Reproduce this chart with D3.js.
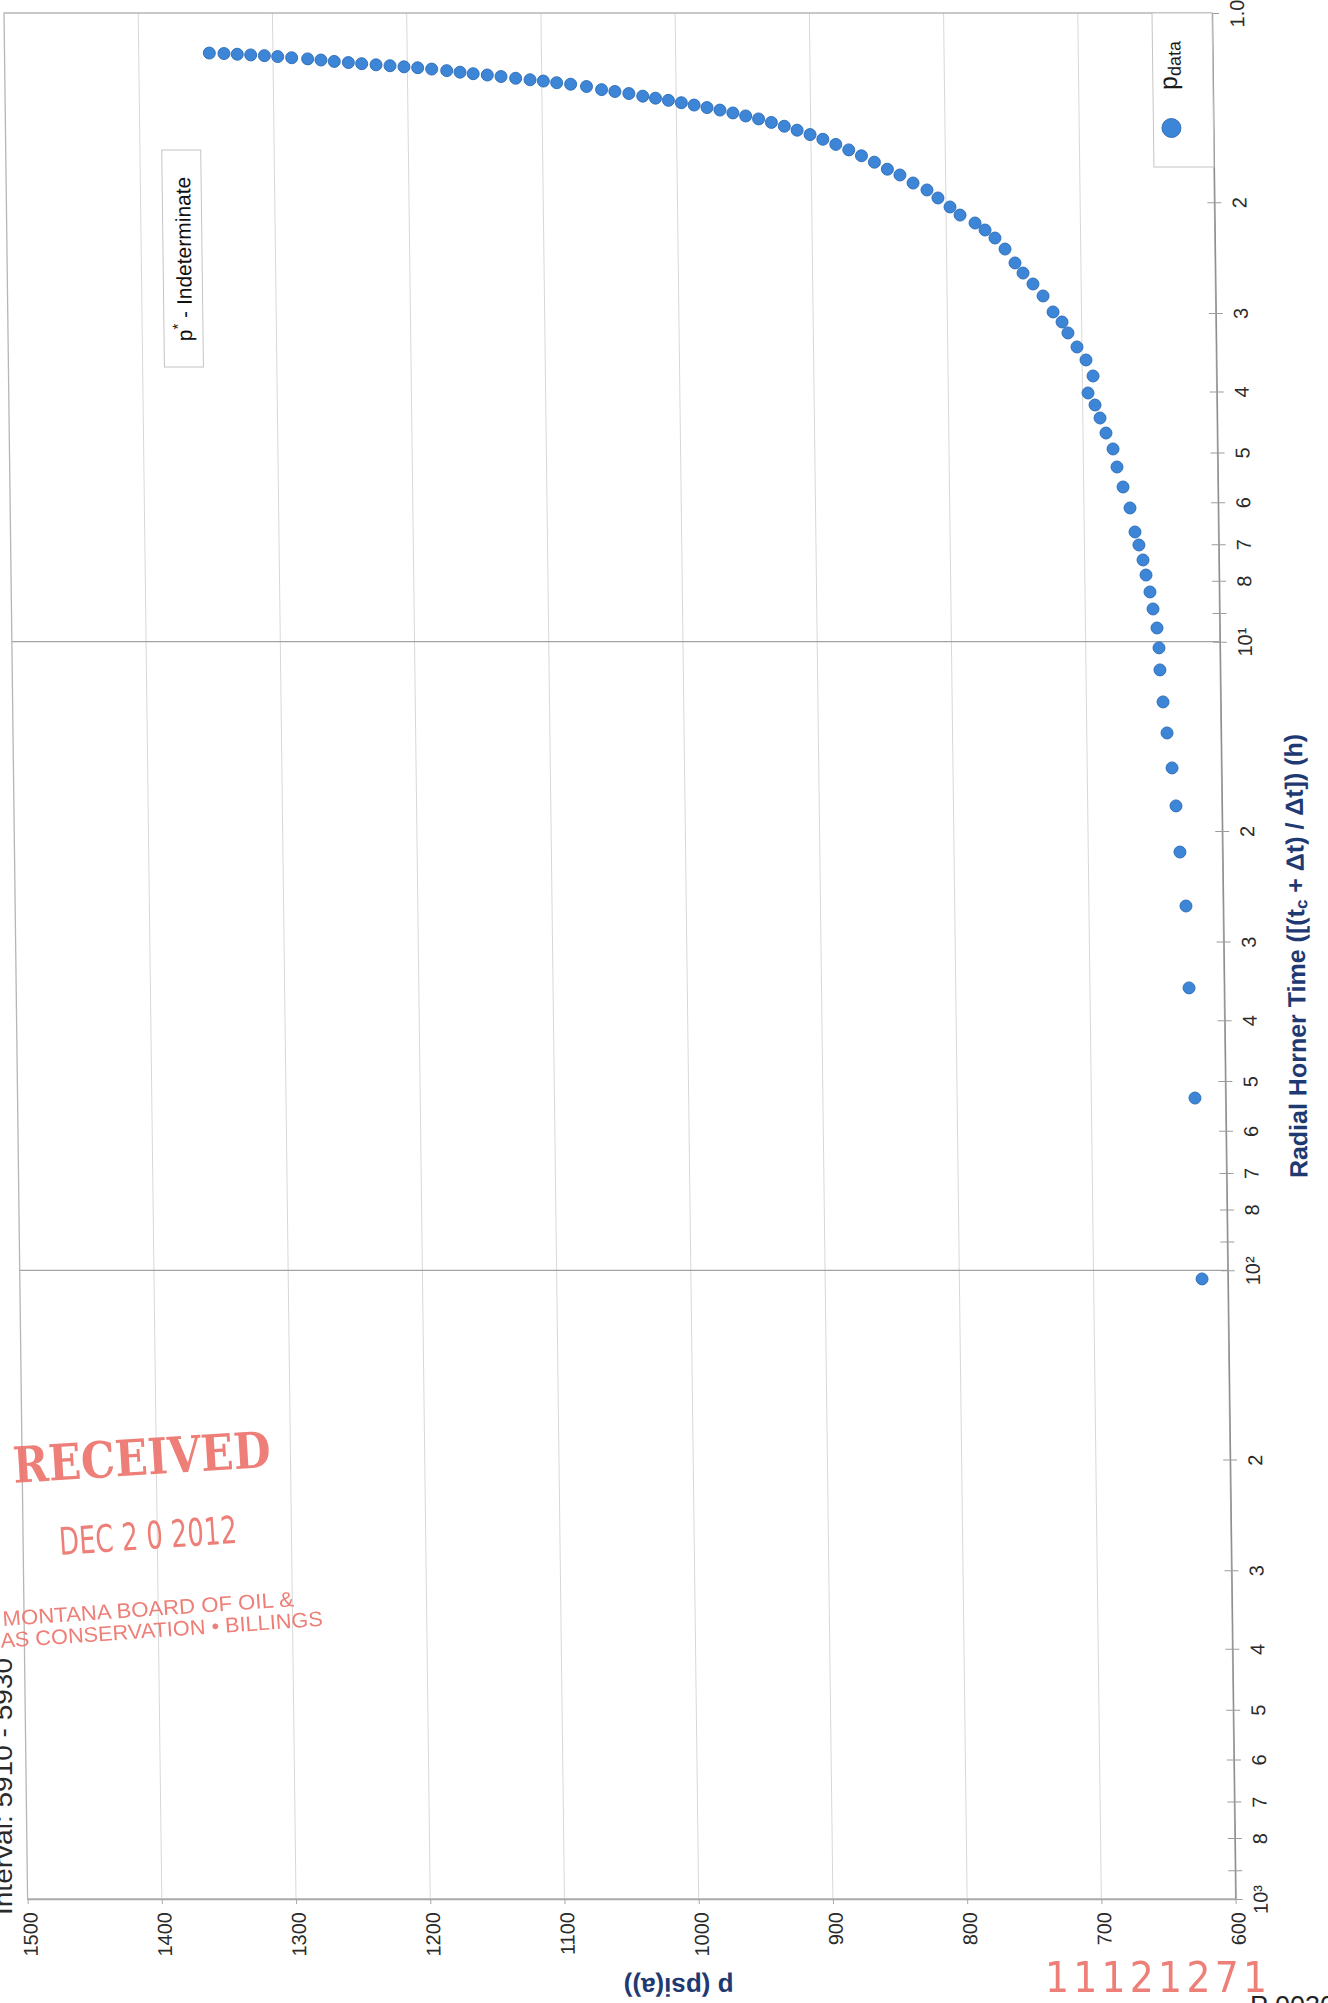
<!DOCTYPE html>
<html>
<head>
<meta charset="utf-8">
<script src="https://cdn.jsdelivr.net/npm/d3@7"></script>
<style>
  html, body { margin: 0; padding: 0; background: #ffffff; }
  svg { display: block; }
</style>
</head>
<body>
<script>
// Radial Horner plot of the buildup: Horner time (log) vs pressure, page turned sideways.
const hornerTime = [
  1.158, 1.160, 1.163, 1.166, 1.169, 1.173, 1.178, 1.183, 1.188, 1.194,
  1.199, 1.204, 1.209, 1.213, 1.218, 1.222, 1.228, 1.235, 1.242, 1.249,
  1.255, 1.262, 1.270, 1.277, 1.283, 1.291, 1.298, 1.309, 1.324, 1.333,
  1.343, 1.356,
  1.366, 1.377, 1.389, 1.401, 1.414, 1.427, 1.442, 1.458, 1.474, 1.493,
  1.514, 1.536, 1.561, 1.588, 1.618, 1.651, 1.687, 1.727, 1.772,
  1.810, 1.864, 1.912, 1.969, 2.035, 2.096, 2.158, 2.214, 2.280, 2.374,
  2.498, 2.592, 2.698, 2.819, 2.989, 3.101, 3.228, 3.398, 3.564, 3.779,
  4.022, 4.203, 4.408, 4.657, 4.937, 5.274, 5.675, 6.128, 6.691, 7.018,
  7.414, 7.834, 8.336, 8.871, 9.511, 10.23,
  11.09, 12.47, 13.97, 15.88, 18.25, 21.61, 26.33, 35.54, 53.2, 103.2
];
const pressure = [
  1347.4, 1336.5, 1326.6, 1316.6, 1306.4, 1296.5, 1286.1, 1274.2, 1264.3, 1254.4,
  1243.9, 1234.0, 1223.3, 1212.9, 1202.5, 1192.3, 1181.9, 1170.7, 1160.8, 1151.0,
  1140.5, 1130.3, 1119.4, 1108.7, 1098.8, 1088.9, 1078.5, 1066.7, 1055.5, 1045.6,
  1035.2, 1024.9,
  1015.4, 1005.8, 996.2, 986.7, 977.1, 967.5, 957.9, 948.4, 938.8, 929.3,
  919.7, 910.2, 900.6, 891.1, 881.5, 871.9, 862.5, 852.9, 843.3,
  834.0, 824.3, 814.0, 805.9, 797.0, 789.6, 778.5, 771.1, 763.8, 756.4,
  749.1, 743.2, 735.9, 728.5, 721.2, 714.6, 710.3, 703.7, 697.1, 692.0,
  695.9, 690.8, 687.2, 682.9, 677.8, 675.0, 670.7, 665.7, 662.2, 659.4,
  656.5, 654.4, 651.6, 649.5, 646.7, 645.4,
  644.9, 642.9, 640.2, 636.8, 634.2, 631.7, 627.7, 626.2, 622.8, 619.2
];
const pTicks = [1500, 1400, 1300, 1200, 1100, 1000, 900, 800, 700, 600];
const hDecades = [1, 10, 100, 1000];
const hDecadeLabels = ["1.0", "10\u00B9", "10\u00B2", "10\u00B3"];
const hMinor = [2, 3, 4, 5, 6, 7, 8, 9];

const W = 1328, H = 2003;
const frame = { left: 4, top: 13, width: 1208, height: 1886, skew: 0.0125 };
const FONT = "'Liberation Sans', Arial, Helvetica, sans-serif";
const NAVY = "#1f3a72";
const DOT = "#3d86d7", DOT_EDGE = "#2a69b4";

const svg = d3.select("body").append("svg").attr("width", W).attr("height", H);
svg.append("rect").attr("width", W).attr("height", H).attr("fill", "#ffffff");

const x = d3.scaleLinear().domain([pTicks[0], pTicks[pTicks.length - 1]]).range([0, frame.width]);
const y = d3.scaleLog().domain([hDecades[0], hDecades[hDecades.length - 1]]).range([0, frame.height]);

const g = svg.append("g")
  .attr("transform", `translate(${frame.left},${frame.top}) matrix(1,0,${frame.skew},1,0,0)`);

// pressure grid
g.append("g").selectAll("line").data(pTicks.slice(1, -1)).join("line")
  .attr("x1", d => x(d)).attr("x2", d => x(d))
  .attr("y1", 0).attr("y2", frame.height)
  .attr("stroke", "#d8d8d8").attr("stroke-width", 1);

// decade grid
g.append("g").selectAll("line").data(hDecades.slice(1, -1)).join("line")
  .attr("x1", 0).attr("x2", frame.width)
  .attr("y1", d => y(d)).attr("y2", d => y(d))
  .attr("stroke", "#a3a3a3").attr("stroke-width", 1.2);

// plot frame
g.append("rect").attr("width", frame.width).attr("height", frame.height)
  .attr("fill", "none").attr("stroke", "#b6b6b6").attr("stroke-width", 1.3);

// Horner time axis (right side)
const hTicks = [];
hDecades.slice(0, -1).forEach(d => { hTicks.push(d); hMinor.forEach(m => hTicks.push(m * d)); });
hTicks.push(hDecades[hDecades.length - 1]);
const hLabel = v => {
  const k = hDecades.indexOf(v);
  if (k >= 0) return hDecadeLabels[k];
  const lead = Math.round(v / Math.pow(10, Math.floor(Math.log10(v) + 1e-9)));
  return lead === 9 ? "" : String(lead);
};
const ya = g.append("g").attr("transform", `translate(${frame.width},0)`)
  .call(d3.axisRight(y).tickValues(hTicks).tickSize(7).tickSizeOuter(0).tickFormat(hLabel));
ya.select(".domain").attr("stroke", "#8e8e8e").attr("stroke-width", 1.3);
ya.selectAll(".tick line").attr("x1", -7).attr("x2", 7).attr("stroke", "#9c9c9c");
ya.selectAll(".tick text")
  .attr("x", null).attr("dy", null)
  .attr("transform", "translate(25,0) rotate(-90)")
  .attr("text-anchor", "middle").attr("dominant-baseline", "central")
  .attr("font-family", FONT).attr("font-size", 20).attr("fill", "#2a2a2a");

// pressure axis (bottom)
const xa = g.append("g").attr("transform", `translate(0,${frame.height})`)
  .call(d3.axisBottom(x).tickValues(pTicks).tickSize(5).tickSizeOuter(0).tickFormat(d3.format("d")));
xa.select(".domain").attr("stroke", "#a8a8a8").attr("stroke-width", 1.3);
xa.selectAll(".tick line").attr("stroke", "#a8a8a8");
xa.selectAll(".tick text")
  .attr("y", null).attr("dy", null)
  .attr("transform", "translate(2,13) rotate(-90)")
  .attr("text-anchor", "end").attr("dominant-baseline", "central")
  .attr("font-family", FONT).attr("font-size", 20).attr("fill", "#2a2a2a");

// axis titles
const hTitle = g.append("text")
  .attr("transform", `translate(${frame.width + 72},${frame.height / 2}) rotate(-90)`)
  .attr("text-anchor", "middle").attr("dominant-baseline", "central")
  .attr("font-family", FONT).attr("font-size", 25).attr("font-weight", "bold").attr("fill", NAVY);
hTitle.append("tspan").text("Radial Horner Time ([(t");
hTitle.append("tspan").attr("font-size", 17).attr("dy", 6).text("c");
hTitle.append("tspan").attr("dy", -6).text(" + \u0394t) / \u0394t]) (h)");

g.append("text")
  .attr("transform", `translate(650,${frame.height + 88}) rotate(180)`)
  .attr("text-anchor", "middle").attr("dominant-baseline", "central")
  .attr("font-family", FONT).attr("font-size", 26).attr("font-weight", "bold").attr("fill", NAVY)
  .text("p (psi(a))");

// data points
const points = hornerTime.map((t, i) => ({ t, p: pressure[i] }));
g.append("g").selectAll("circle").data(points).join("circle")
  .attr("cx", d => x(d.p)).attr("cy", d => y(d.t)).attr("r", 6)
  .attr("fill", DOT).attr("stroke", DOT_EDGE).attr("stroke-width", 0.9);

// legend
const lg = g.append("g");
lg.append("rect").attr("x", frame.width - 60).attr("y", 0).attr("width", 60).attr("height", 154)
  .attr("fill", "#ffffff").attr("stroke", "#c4c4c4").attr("stroke-width", 1);
lg.append("circle").attr("cx", frame.width - 42).attr("cy", 115).attr("r", 9.5)
  .attr("fill", DOT).attr("stroke", DOT_EDGE).attr("stroke-width", 0.9);
const lt = lg.append("text")
  .attr("transform", `translate(${frame.width - 36},77) rotate(-90)`)
  .attr("font-family", FONT).attr("font-size", 25).attr("fill", "#1a1a1a");
lt.append("tspan").text("p");
lt.append("tspan").attr("font-size", 18).attr("dy", 4).text("data");

// annotation box
const note = g.append("g");
note.append("rect").attr("x", 156).attr("y", 137).attr("width", 39).attr("height", 217)
  .attr("fill", "#ffffff").attr("stroke", "#c4c4c4").attr("stroke-width", 1);
const nt = note.append("text")
  .attr("transform", "translate(176,246) rotate(-90)")
  .attr("text-anchor", "middle").attr("dominant-baseline", "central")
  .attr("font-family", FONT).attr("font-size", 21).attr("fill", "#111111");
nt.append("tspan").text("p");
nt.append("tspan").attr("font-size", 15).attr("dy", -7).text("*");
nt.append("tspan").attr("dy", 7).text(" - Indeterminate");

// page text outside the plot
svg.append("text")
  .attr("transform", "translate(12,1915) rotate(-90)")
  .attr("font-family", FONT).attr("font-size", 26).attr("fill", "#2a2a2a")
  .attr("textLength", 257).attr("lengthAdjust", "spacingAndGlyphs")
  .text("Interval: 5910 - 5930");

svg.append("text")
  .attr("x", 1250).attr("y", 2015)
  .attr("font-family", FONT).attr("font-size", 27).attr("fill", "#222222")
  .text("P 0030");

// received stamp
const stamp = svg.append("g").attr("fill", "#ec746c").attr("opacity", 0.92);
stamp.append("text")
  .attr("transform", "translate(14,1483) rotate(-3.6)")
  .attr("font-family", "'DejaVu Serif', serif").attr("font-weight", "bold").attr("font-size", 50)
  .attr("textLength", 258).attr("lengthAdjust", "spacingAndGlyphs")
  .text("RECEIVED");
stamp.append("text")
  .attr("transform", "translate(60,1555) rotate(-3.9)")
  .attr("font-family", "'Liberation Sans Narrow', 'DejaVu Sans Condensed', sans-serif").attr("font-size", 38)
  .attr("textLength", 178).attr("lengthAdjust", "spacingAndGlyphs")
  .text("DEC 2 0 2012");
stamp.append("text")
  .attr("transform", "translate(3,1626) rotate(-3.9)")
  .attr("font-family", FONT).attr("font-size", 21)
  .attr("textLength", 292).attr("lengthAdjust", "spacingAndGlyphs")
  .text("MONTANA BOARD OF OIL &");
stamp.append("text")
  .attr("transform", "translate(-16,1649) rotate(-3.9)")
  .attr("font-family", FONT).attr("font-size", 21)
  .attr("textLength", 340).attr("lengthAdjust", "spacingAndGlyphs")
  .text("GAS CONSERVATION \u2022 BILLINGS");
stamp.append("text")
  .attr("x", 1045).attr("y", 1992)
  .attr("font-family", "'Liberation Sans Narrow', 'DejaVu Sans Condensed', sans-serif").attr("font-size", 42)
  .attr("textLength", 222).attr("lengthAdjust", "spacing")
  .text("11121271");
</script>
</body>
</html>
